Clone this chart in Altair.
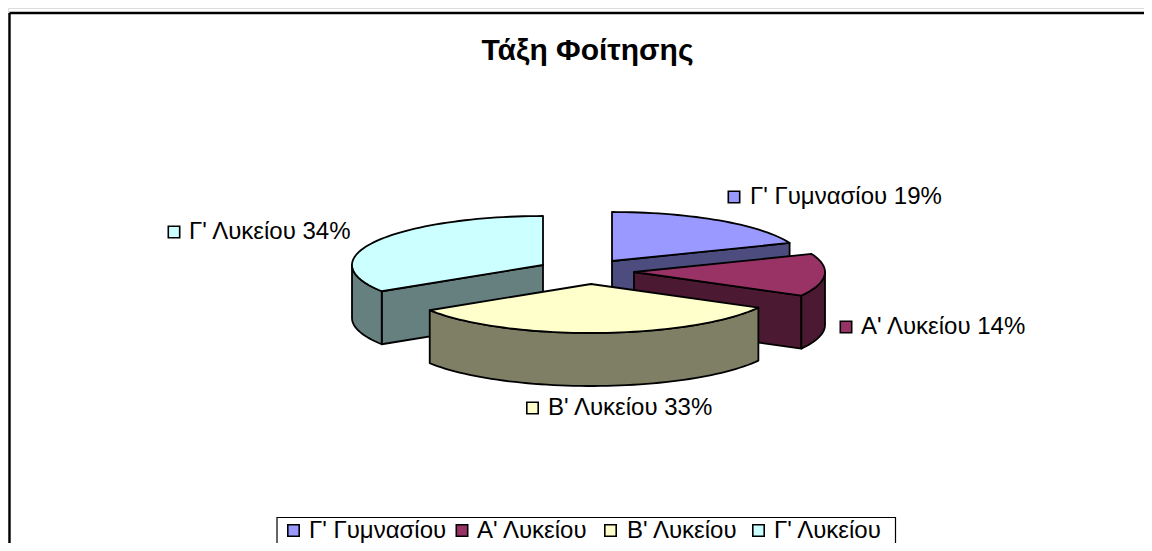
import math
import altair as alt
import pandas as pd

TITLE = "Τάξη Φοίτησης"
CATEGORIES = ["Γ' Γυμνασίου", "Α' Λυκείου", "Β' Λυκείου", "Γ' Λυκείου"]
SHARES = [19, 14, 33, 34]
TOP_COLORS = ["#9999FF", "#993366", "#FFFFCC", "#CCFFFF"]
SIDE_COLORS = ["#4C4C7F", "#4C1933", "#7F7F66", "#667F7F"]

# Exploded-slice apex positions (page pixels), ellipse radii and pie depth
APEX_X = [612, 634, 591, 543]
APEX_Y = [261, 272, 284, 265]
RX, RY, DEPTH = 191, 49, 53
DRAW_ORDER = [0, 3, 1, 2]

# Data-label anchor positions
KEY_X = [734, 846, 532.5, 174]
KEY_Y = [197, 327, 408, 232]
TEXT_X = [750, 861, 548, 189]

# Legend entry positions
LEG_KEY_X = [293.5, 462, 610.5, 758.5]
LEG_TEXT_X = [309, 477, 627, 774]
LEG_Y = [530.5, 530.5, 530.5, 530.5]

W, H = 1136, 535
FONT = "Liberation Sans"

x_scale = alt.Scale(domain=[8, 8 + W], nice=False, zero=False)
y_scale = alt.Scale(domain=[8 + H, 8], nice=False, zero=False)


def rim(i, a, dy=0):
    t = math.radians(a)
    return (APEX_X[i] + RX * math.sin(t), APEX_Y[i] - RY * math.cos(t) + dy)


def arc_pts(i, a0, a1, dy=0):
    n = max(2, int(abs(a1 - a0) / 2) + 1)
    return [rim(i, a0 + (a1 - a0) * k / (n - 1), dy) for k in range(n)]


def poly(points, fill):
    df = pd.DataFrame(points, columns=["x", "y"])
    df["i"] = range(len(df))
    return (
        alt.Chart(df)
        .mark_line(
            fill=fill,
            stroke="black",
            strokeWidth=1.8,
            interpolate="linear-closed",
            strokeJoin="round",
        )
        .encode(
            x=alt.X("x:Q", scale=x_scale, axis=None),
            y=alt.Y("y:Q", scale=y_scale, axis=None),
            order="i:Q",
        )
    )


layers = []

# Frame (the chart area runs past the right and bottom of the picture)
frame = pd.DataFrame(
    {"x": [9.5, 9.5], "x2": [9.5, 8 + W], "y": [13, 13], "y2": [8 + H, 13]}
)
layers.append(
    alt.Chart(frame)
    .mark_rule(color="black", strokeWidth=2.4)
    .encode(
        x=alt.X("x:Q", scale=x_scale, axis=None),
        x2="x2:Q",
        y=alt.Y("y:Q", scale=y_scale, axis=None),
        y2="y2:Q",
    )
)

# Legend box
box = pd.DataFrame({"x": [277], "x2": [895.5], "y": [517.5], "y2": [560]})
layers.append(
    alt.Chart(box)
    .mark_rect(fill="white", stroke="black", strokeWidth=1.2)
    .encode(
        x=alt.X("x:Q", scale=x_scale, axis=None),
        x2="x2:Q",
        y=alt.Y("y:Q", scale=y_scale, axis=None),
        y2="y2:Q",
    )
)

# Slices
starts = []
acc = 0
for s in SHARES:
    starts.append(acc)
    acc += s * 3.6

for i in DRAW_ORDER:
    a0 = starts[i]
    a1 = a0 + SHARES[i] * 3.6
    c = (APEX_X[i], APEX_Y[i])
    cb = (APEX_X[i], APEX_Y[i] + DEPTH)
    # straight cut walls facing the viewer
    for a in (a0, a1):
        if (a == a0 and 180 < a < 360) or (a == a1 and 0 < a < 180):
            layers.append(poly([c, rim(i, a), rim(i, a, DEPTH), cb], SIDE_COLORS[i]))
    # curved outer wall, front half only
    lo, hi = max(a0, 90), min(a1, 270)
    if lo < hi:
        layers.append(
            poly(arc_pts(i, lo, hi) + arc_pts(i, hi, lo, DEPTH), SIDE_COLORS[i])
        )
    # top face
    layers.append(poly([c] + arc_pts(i, a0, a1), TOP_COLORS[i]))

color_scale = alt.Scale(domain=CATEGORIES, range=TOP_COLORS)

# Keys and texts: data labels and legend entries
entries = pd.DataFrame(
    {
        "cat": CATEGORIES + CATEGORIES,
        "label": [f"{c} {s}%" for c, s in zip(CATEGORIES, SHARES)] + CATEGORIES,
        "kx": KEY_X + LEG_KEY_X,
        "ky": KEY_Y + LEG_Y,
        "tx": TEXT_X + LEG_TEXT_X,
    }
)
layers.append(
    alt.Chart(entries)
    .mark_point(shape="square", filled=True, stroke="black", strokeWidth=1.6, size=130, opacity=1)
    .encode(
        x=alt.X("kx:Q", scale=x_scale, axis=None),
        y=alt.Y("ky:Q", scale=y_scale, axis=None),
        fill=alt.Fill("cat:N", scale=color_scale, legend=None),
    )
)
layers.append(
    alt.Chart(entries)
    .mark_text(align="left", baseline="middle", font=FONT, fontSize=24, color="black")
    .encode(
        x=alt.X("tx:Q", scale=x_scale, axis=None),
        y=alt.Y("ky:Q", scale=y_scale, axis=None),
        text="label:N",
    )
)

chart = (
    alt.layer(*layers)
    .properties(
        width=W,
        height=H,
        padding=0,
        autosize=alt.AutoSizeParams(type="none"),
        title=alt.TitleParams(
            text=TITLE,
            font=FONT,
            fontSize=30,
            fontWeight="bold",
            color="black",
            anchor="middle",
            frame="group",
            offset=0,
            dx=11.5,
            dy=58,
        ),
    )
    .configure_view(stroke=None)
    .configure(background="white")
)

chart.save("out.html", embed_options={"renderer": "svg", "actions": False})
